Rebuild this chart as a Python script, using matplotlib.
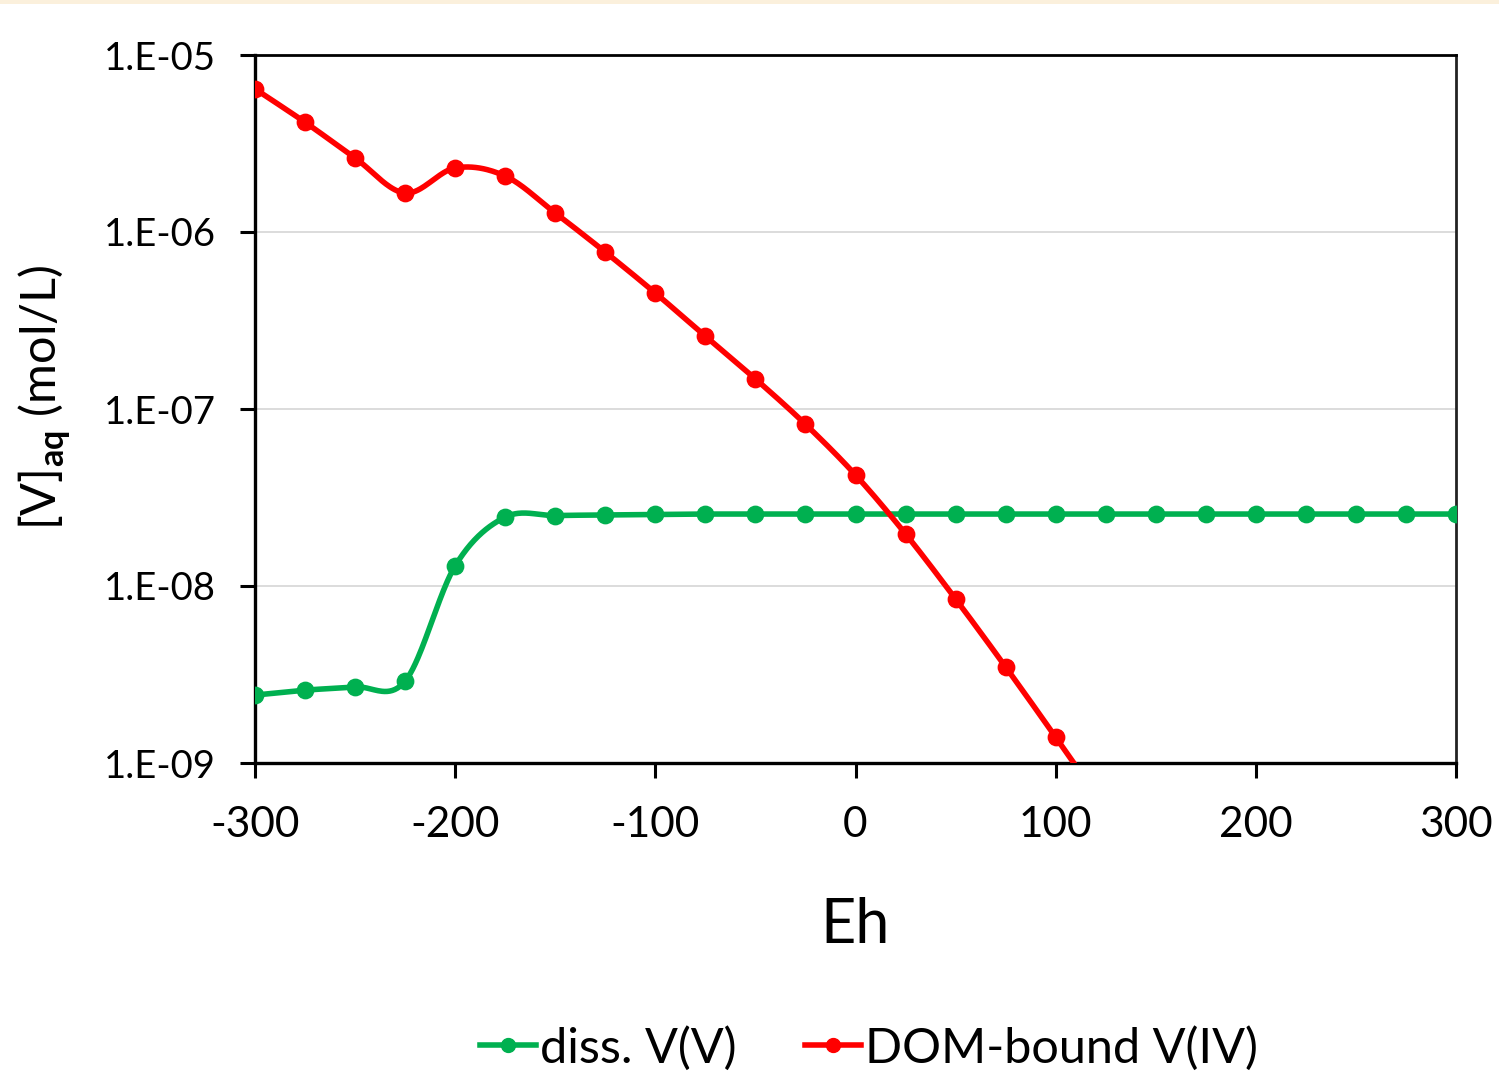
import numpy as np
import matplotlib
matplotlib.use("Agg")
import matplotlib.pyplot as plt
from matplotlib.patches import Rectangle

plt.rcParams['font.family'] = ['Lato', 'DejaVu Sans']
plt.rcParams['mathtext.fontset'] = 'custom'
plt.rcParams['mathtext.rm'] = 'Lato'
plt.rcParams['mathtext.bf'] = 'Lato:bold'

# ---- data ----
eh = [-300, -275, -250, -225, -200, -175, -150, -125, -100, -75, -50, -25,
      0, 25, 50, 75, 100, 125, 150, 175, 200, 225, 250, 275, 300]
diss_vv = [2.42e-9, 2.58e-9, 2.69e-9, 2.90e-9, 1.30e-8, 2.45e-8, 2.50e-8, 2.52e-8,
           2.54e-8, 2.55e-8, 2.55e-8, 2.55e-8, 2.55e-8, 2.55e-8, 2.55e-8, 2.55e-8,
           2.55e-8, 2.55e-8, 2.55e-8, 2.55e-8, 2.55e-8, 2.55e-8, 2.55e-8, 2.55e-8, 2.55e-8]
eh_dom = [-300, -275, -250, -225, -200, -175, -150, -125, -100, -75, -50, -25,
          0, 25, 50, 75, 100, 125, 150]
dom_viv = [6.43e-6, 4.17e-6, 2.62e-6, 1.66e-6, 2.30e-6, 2.07e-6, 1.28e-6, 7.7e-7,
           4.52e-7, 2.58e-7, 1.48e-7, 8.2e-8, 4.24e-8, 1.97e-8, 8.45e-9, 3.49e-9,
           1.40e-9, 5.5e-10, 2.1e-10]
series_labels = ['diss. V(V)', 'DOM-bound V(IV)']
series_colors = ['#00B050', '#FF0000']
yticks = [1e-9, 1e-8, 1e-7, 1e-6, 1e-5]
ytick_labels = ['1.E-09', '1.E-08', '1.E-07', '1.E-06', '1.E-05']
xticks = [-300, -200, -100, 0, 100, 200, 300]


def excel_smooth(x, y, n=40):
    """Excel-like smoothed line (Catmull-Rom Bezier) in (x, log10 y) space."""
    x = np.asarray(x, float)
    ly = np.log10(np.asarray(y, float))
    P = np.column_stack([x, ly])
    out = []
    m = len(P)
    t = np.linspace(0, 1, n)[:, None]
    for i in range(m - 1):
        p0 = P[i - 1] if i > 0 else P[i]
        p1 = P[i]
        p2 = P[i + 1]
        p3 = P[i + 2] if i + 2 < m else P[i + 1]
        c1 = p1 + (p2 - p0) / 6.0
        c2 = p2 - (p3 - p1) / 6.0
        seg = ((1 - t) ** 3) * p1 + 3 * ((1 - t) ** 2) * t * c1 + 3 * (1 - t) * t ** 2 * c2 + t ** 3 * p2
        out.append(seg if i == 0 else seg[1:])
    out = np.vstack(out)
    return out[:, 0], 10 ** out[:, 1]


fig = plt.figure(figsize=(14.99, 10.74), dpi=100)
fig.patches.append(Rectangle((0, 1 - 4 / 1074), 1, 4 / 1074, transform=fig.transFigure,
                             facecolor='#FBF0DC', edgecolor='none', zorder=0))
ax = fig.add_axes([255 / 1499, 1 - 763 / 1074, (1456 - 255) / 1499, (763 - 55) / 1074])

for xs, ys, lab, col in [(eh, diss_vv, series_labels[0], series_colors[0]),
                         (eh_dom, dom_viv, series_labels[1], series_colors[1])]:
    sx, sy = excel_smooth(xs, ys)
    ax.plot(sx, sy, color=col, lw=4.0, solid_capstyle='round', zorder=3)
    ax.plot(xs, ys, 'o', color=col, ms=11.8, zorder=4)
    ax.plot([], [], color=col, lw=4.0, marker='o', ms=10, label=lab)

ax.set_yscale('log')
ax.set_xlim(-300, 300)
ax.set_ylim(1e-9, 1e-5)
ax.set_yticks(yticks)
ax.set_yticklabels(ytick_labels)
ax.yaxis.set_minor_locator(matplotlib.ticker.NullLocator())
ax.set_xticks(xticks)
ax.set_xticklabels([str(v) for v in xticks])
ax.tick_params(axis='y', which='major', direction='out', length=10.5, width=2.2,
               labelsize=27.5, pad=17.5, color='black')
ax.tick_params(axis='x', which='major', direction='out', length=11, width=2.2,
               labelsize=30.5, pad=20, color='black')
ax.grid(axis='y', which='major', color='#D9D9D9', lw=1.3, zorder=0)
for s in ['left', 'bottom']:
    ax.spines[s].set_linewidth(2.4)
    ax.spines[s].set_color('black')
ax.spines['top'].set_linewidth(2.0)
ax.spines['right'].set_linewidth(2.0)
ax.spines['top'].set_color('black')
ax.spines['right'].set_color('#222222')

ax.set_xlabel('Eh', fontsize=44, labelpad=38)
ax.set_ylabel(r'[V]$_{\mathbf{aq}}$ (mol/L)', fontsize=35, labelpad=22)
ax.yaxis.label.set_y(0.5 + 12 / 708)

leg = fig.legend(loc='center', bbox_to_anchor=(869 / 1499, 1 - 1048 / 1074), ncol=2,
                 frameon=False, fontsize=35, handlelength=1.15, handletextpad=0.08,
                 columnspacing=1.4)

fig.savefig('out.png', dpi=100)
